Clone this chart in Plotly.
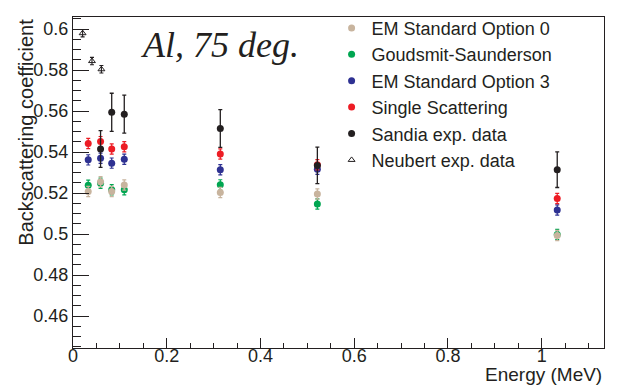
import plotly.graph_objects as go

# ---- data ----
energy_sim = [0.0325, 0.0588, 0.0826, 0.1094, 0.3143, 0.5214, 1.0332]
em_opt0 = [0.5208, 0.5255, 0.5208, 0.5239, 0.5203, 0.5195, 0.4993]
goudsmit = [0.5238, 0.5248, 0.5216, 0.5216, 0.5240, 0.5147, 0.4998]
em_opt3 = [0.5362, 0.5370, 0.5346, 0.5365, 0.5314, 0.5316, 0.5117]
single_sc = [0.5442, 0.5451, 0.5415, 0.5426, 0.5391, 0.5338, 0.5173]
sim_err = [0.0025, 0.0025, 0.0025, 0.0025, 0.0025, 0.0025, 0.0025]

energy_sandia = [0.0588, 0.0826, 0.1094, 0.3143, 0.5214, 1.0332]
sandia = [0.5415, 0.5594, 0.5585, 0.5515, 0.5335, 0.5314]
sandia_err = [0.0090, 0.0093, 0.0093, 0.0092, 0.0089, 0.0087]

energy_neubert = [0.0205, 0.0405, 0.0606]
neubert = [0.5980, 0.5844, 0.5804]
neubert_err = [0.0018, 0.0018, 0.0018]

names = ["EM Standard Option 0", "Goudsmit-Saunderson", "EM Standard Option 3",
         "Single Scattering", "Sandia exp. data", "Neubert exp. data"]
colors = ["#C8B49E", "#00A651", "#2E3192", "#ED1C24", "#231F20", "#231F20"]

x_tickvals = [0, 0.2, 0.4, 0.6, 0.8, 1.0]
x_ticktext = ["0", "0.2", "0.4", "0.6", "0.8", "1"]
y_tickvals = [0.46, 0.48, 0.5, 0.52, 0.54, 0.56, 0.58, 0.6]
y_ticktext = ["0.46", "0.48", "0.5", "0.52", "0.54", "0.56", "0.58", "0.6"]

FONT = "Liberation Sans, Arial, sans-serif"
TXT = "#231F20"

fig = go.Figure()
sim_series = [em_opt0, goudsmit, em_opt3, single_sc]
draw_order = [1, 0, 2, 3]  # green below tan
for i in draw_order:
    ys = sim_series[i]
    fig.add_trace(go.Scatter(
        x=energy_sim, y=ys, mode="markers", name=names[i], legendgroup=f"g{i}",
        legendrank=i + 1,
        marker=dict(symbol="circle", size=7, color=colors[i]),
        error_y=dict(type="data", array=sim_err, color=colors[i], thickness=1.2, width=2),
    ))
fig.add_trace(go.Scatter(
    x=energy_sandia, y=sandia, mode="markers", name=names[4], legendgroup="g4",
    legendrank=5,
    marker=dict(symbol="circle", size=7, color=colors[4]),
    error_y=dict(type="data", array=sandia_err, color=colors[4], thickness=1.3, width=2),
))
fig.add_trace(go.Scatter(
    x=energy_neubert, y=neubert, mode="markers", name=names[5], legendgroup="g5",
    legendrank=6,
    marker=dict(symbol="triangle-up-open", size=6, color=colors[5], line=dict(width=1)),
    error_y=dict(type="data", array=neubert_err, color=colors[5], thickness=1.1, width=2),
))

fig.update_layout(
    width=628, height=386,
    margin=dict(l=73, r=24, t=10, b=38),
    paper_bgcolor="white", plot_bgcolor="white",
    font=dict(family=FONT, color=TXT, size=18),
    showlegend=True,
    legend=dict(x=0.487, y=1.022, xanchor="left", yanchor="top",
                font=dict(family=FONT, size=18, color=TXT),
                bgcolor="rgba(0,0,0,0)", tracegroupgap=0, itemwidth=30),
    xaxis=dict(range=[0, 1.133], showgrid=False, zeroline=False,
               showline=True, linecolor="#231F20", linewidth=1, mirror=True,
               ticks="inside", ticklen=10, tickcolor="#231F20",
               tickvals=x_tickvals, ticktext=x_ticktext, ticklabelstandoff=-9,
               minor=dict(ticks="inside", ticklen=5, dtick=0.05, tick0=0, tickcolor="#231F20", showgrid=False),
               tickfont=dict(size=18, family=FONT, color=TXT)),
    yaxis=dict(range=[0.4444, 0.6059], showgrid=False, zeroline=False,
               showline=True, linecolor="#231F20", linewidth=1, mirror=True,
               ticks="inside", ticklen=16, tickcolor="#231F20",
               tickvals=y_tickvals, ticktext=y_ticktext,
               minor=dict(ticks="inside", ticklen=8, dtick=0.005, tick0=0.4, tickcolor="#231F20", showgrid=False),
               tickfont=dict(size=18, family=FONT, color=TXT)),
    annotations=[
        dict(text="Backscattering coefficient", xref="paper", yref="paper",
             x=-0.09, y=1.0, xanchor="center", yanchor="top", textangle=-90,
             showarrow=False, font=dict(family=FONT, size=20, color=TXT)),
        dict(text="Energy (MeV)", xref="paper", yref="paper",
             x=1.0, y=-0.079, xanchor="right", yanchor="middle",
             showarrow=False, font=dict(family=FONT, size=19, color=TXT)),
        dict(text="<i>Al, 75 deg.</i>", xref="paper", yref="paper",
             x=0.124, y=0.915, xanchor="left", yanchor="middle",
             showarrow=False, font=dict(family="Liberation Serif, Times New Roman, serif", size=36, color=TXT)),
    ],
)

fig.write_html("out.html", config={"displayModeBar": False},
               post_script="document.body.style.margin='0';document.body.style.padding='0';")
